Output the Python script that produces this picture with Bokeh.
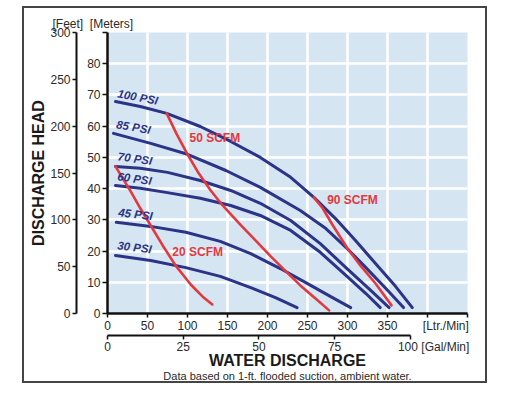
from bokeh.plotting import figure
from bokeh.models import Range1d, LinearAxis, FixedTicker, Title
from bokeh.embed import file_html
from bokeh.resources import INLINE
from bokeh.core.properties import value

# ---------------- data ----------------
# pressure curves: flow [Ltr/Min] vs head [Meters]
flow_100 = [10, 41, 74, 116, 154, 191, 229, 258, 285, 310, 335, 360, 381]
head_100 = [67.9, 66.3, 64.1, 59.9, 55.1, 50.0, 43.6, 37.2, 30.4, 23.4, 16.0, 8.7, 1.9]
flow_85 = [7.5, 54, 100, 148, 191, 241, 273, 298, 323, 348, 370]
head_85 = [57.7, 54.5, 51.0, 45.8, 40.4, 33.0, 27.2, 21.2, 14.7, 8.0, 1.9]
flow_70 = [10, 41, 75, 116, 154, 191, 229, 266, 298, 329, 352]
head_70 = [47.1, 46.5, 45.2, 42.6, 39.4, 35.3, 29.8, 22.4, 14.7, 7.4, 1.9]
flow_60 = [10, 41, 73, 116, 154, 191, 229, 266, 298, 323, 341]
head_60 = [41.0, 40.1, 38.8, 36.9, 34.6, 31.4, 26.6, 19.6, 12.2, 6.4, 1.9]
flow_45 = [11, 54, 98, 141, 179, 216, 254, 279, 304]
head_45 = [29.2, 27.9, 26.0, 23.1, 19.2, 14.4, 9.0, 5.4, 1.9]
flow_30 = [10, 54, 98, 141, 179, 210, 237]
head_30 = [18.6, 17.0, 14.7, 11.9, 8.3, 5.1, 1.9]

# air consumption curves
flow_20scfm = [10, 19, 29, 41, 54, 69, 85, 104, 119, 131]
head_20scfm = [47.1, 43.3, 39.1, 33.7, 28.2, 21.8, 15.4, 9.3, 5.4, 2.9]
flow_50scfm = [74, 86, 100, 114, 129, 144, 166, 185, 204, 223, 241, 260, 277]
head_50scfm = [64.1, 57.7, 51.0, 44.9, 39.4, 34.6, 28.5, 23.4, 18.3, 13.5, 9.0, 4.8, 1.0]
flow_90scfm = [258, 269, 281, 300, 316, 335, 355]
head_90scfm = [37.2, 33.7, 28.5, 20.8, 15.4, 9.6, 2.6]

psi_names = ["100 PSI", "85 PSI", "70 PSI", "60 PSI", "45 PSI", "30 PSI"]
psi_label_x = [38, 32.5, 34.4, 33.8, 35, 33.8]
psi_label_y = [69.3, 59.7, 49.6, 43.2, 31.8, 21.2]
psi_label_angle = [-0.19, -0.17, -0.14, -0.14, -0.11, -0.12]

scfm_names = ["20 SCFM", "50 SCFM", "90 SCFM"]
scfm_label_x = [81, 102.5, 274.6]
scfm_label_y = [19.6, 56.3, 36.2]

ltr_ticks = [0, 50, 100, 150, 200, 250, 300, 350, 400, 450]
meter_ticks = [0, 10, 20, 30, 40, 50, 60, 70, 80, 90]
feet_ticks = [0, 50, 100, 150, 200, 250, 300]
gal_ticks = [0, 25, 50, 75, 100]

LTR_PER_GAL = 3.785
NB = "\u00a0"

NAVY = "#2b3487"
RED = "#e2393f"
FONT = "Liberation Sans"
BOX = "#454545"

p = figure(width=461, height=373, x_range=Range1d(0, 450), y_range=Range1d(0, 90),
           output_backend="svg", toolbar_location=None,
           min_border_left=83, min_border_right=18, min_border_top=24, min_border_bottom=68)
p.styles = {"margin-left": "24px", "margin-top": "8px",
            "outline": "2px solid " + BOX, "outline-offset": "0px"}
p.extra_y_ranges = {"feet": Range1d(0, 300)}
p.extra_x_ranges = {"gal": Range1d(0, 450 / LTR_PER_GAL)}

p.background_fill_color = "#d5e5f2"
p.border_fill_color = "white"
p.outline_line_color = None

# header title
p.title.text = "[Feet]" + NB * 2 + "[Meters]"
p.title.align = "left"
p.title.vertical_align = "top"
p.title.offset = -55
p.title.text_font = FONT
p.title.text_font_style = "normal"
p.title.text_font_size = "12px"
p.title.text_color = "#2a2a2a"
p.title.standoff = 0

# grid
p.xgrid.ticker = FixedTicker(ticks=ltr_ticks)
p.ygrid.ticker = FixedTicker(ticks=meter_ticks)
for g in (p.xgrid, p.ygrid):
    g.grid_line_color = "white"
    g.grid_line_width = 2.5

def style_axis(ax, size="12px"):
    ax.major_tick_in = 0
    ax.major_tick_out = 4
    ax.minor_tick_in = 0
    ax.minor_tick_out = 0
    ax.axis_line_color = "#111111"
    ax.major_tick_line_color = "#111111"
    ax.major_tick_line_width = 1.5
    ax.major_label_text_font = FONT
    ax.major_label_text_font_size = size
    ax.major_label_text_color = "#2a2a2a"

# meters axis (primary left)
ya = p.yaxis[0]
ya.ticker = FixedTicker(ticks=meter_ticks)
ya.major_label_overrides = {90: ""}
style_axis(ya)
ya.major_tick_out = 5
ya.axis_line_width = 2.5
ya.major_label_standoff = 2
ya.axis_label = " "
ya.axis_label_text_font_size = "4.5px"
ya.axis_label_standoff = 0

# feet axis
fa = LinearAxis(y_range_name="feet", ticker=FixedTicker(ticks=feet_ticks))
style_axis(fa)
fa.axis_line_width = 2
fa.major_label_standoff = 2
fa.axis_label = "DISCHARGE HEAD"
fa.axis_label_text_font = FONT
fa.axis_label_text_font_style = "bold"
fa.axis_label_text_font_size = "16px"
fa.axis_label_text_color = "#1a1a1a"
fa.axis_label_standoff = 0
p.add_layout(fa, "left")

# litres axis (primary bottom)
xa = p.xaxis[0]
xa.ticker = FixedTicker(ticks=ltr_ticks)
xa.major_label_overrides = {400: NB * 11 + "[Ltr./Min]", 450: ""}
style_axis(xa)
xa.axis_line_width = 2.5
xa.major_label_standoff = 1

# gallons axis
ga = LinearAxis(x_range_name="gal", ticker=FixedTicker(ticks=gal_ticks), bounds=(0, 100))
style_axis(ga)
ga.major_label_overrides = {100: NB * 14 + "100" + NB + "[Gal/Min]"}
ga.axis_line_width = 2
ga.major_label_standoff = 0
ga.axis_label = "WATER DISCHARGE"
ga.axis_label_text_font = FONT
ga.axis_label_text_font_style = "bold"
ga.axis_label_text_font_size = "16px"
ga.axis_label_text_color = "#1a1a1a"
ga.axis_label_standoff = -5
p.add_layout(ga, "below")

p.add_layout(Title(text="Data based on 1-ft. flooded suction, ambient water.",
                   align="center", text_font=FONT, text_font_size="11px",
                   text_font_style="normal", text_color="#2a2a2a", standoff=-8), "below")

# curves
for fx, hy in [(flow_100, head_100), (flow_85, head_85), (flow_70, head_70),
               (flow_60, head_60), (flow_45, head_45), (flow_30, head_30)]:
    p.line(fx, hy, line_color=NAVY, line_width=3, line_join="round", line_cap="round")
for fx, hy in [(flow_20scfm, head_20scfm), (flow_50scfm, head_50scfm), (flow_90scfm, head_90scfm)]:
    p.line(fx, hy, line_color=RED, line_width=2.6, line_join="round", line_cap="round")

p.text(x=psi_label_x, y=psi_label_y, text=psi_names, angle=psi_label_angle,
       text_font=value(FONT), text_font_style="bold italic", text_font_size="11.5px",
       text_color=NAVY, text_align="center", text_baseline="middle")
p.text(x=scfm_label_x, y=scfm_label_y, text=scfm_names,
       text_font=value(FONT), text_font_style="bold", text_font_size="12px",
       text_color=RED, text_align="left", text_baseline="middle")

open("out.html", "w").write(file_html(p, INLINE))
